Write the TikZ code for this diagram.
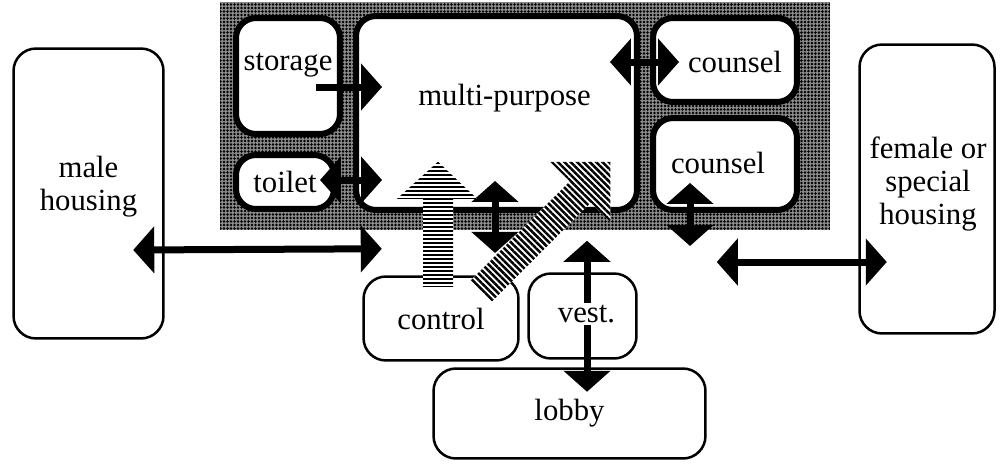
\documentclass[tikz,border=0pt]{standalone}
\usepackage{fontspec}
\setmainfont{Liberation Serif}
\usetikzlibrary{arrows.meta, positioning, fit, backgrounds, calc, patterns.meta}
\tikzset{
    room/.style={
        rectangle, rounded corners=0.4cm, draw=black, line width=0.12cm,
        fill=white, align=center, inner sep=0pt, font=\fontsize{17.5}{19}\selectfont
    },
    wing/.style={
        rectangle, rounded corners=0.45cm, draw=black, line width=0.05cm,
        fill=white, align=center, inner sep=0pt, font=\fontsize{17.5}{19}\selectfont
    },
    every label/.style={
        font=\fontsize{17.5}{19}\selectfont, inner sep=0pt
    },
    link/.style={
        {Triangle[length=0.42cm,width=0.92cm]}-{Triangle[length=0.42cm,width=0.92cm]},
        line width=0.14cm
    },
    oneway/.style={
        -{Triangle[length=0.42cm,width=0.92cm]}, line width=0.14cm
    },
    stipple/.style={
        preaction={fill=black!45},
        pattern={Dots[distance=0.07cm, radius=0.028cm]}, inner sep=0pt
    },
    hstripes/.style={
        preaction={fill=white},
        pattern={Lines[angle=0, distance=0.08cm, line width=0.045cm]}
    },
    dstripes/.style={
        preaction={fill=white},
        pattern={Lines[angle=-45, distance=0.09cm, line width=0.05cm]}
    }
}

\begin{document}
\begin{tikzpicture}[x=0.02cm, y=-0.02cm]
    \useasboundingbox (0,0) rectangle (1000,463);

    % rooms of the unit core
    \node[room, minimum width=2.08cm, minimum height=2.32cm,
          label={[shift={(0,-11)}]center:storage}]          (storage)  at (288,76)    {};
    \node[room, minimum width=1.96cm, minimum height=1.08cm] (toilet)   at (285,182)   {toilet};
    \node[room, minimum width=5.62cm, minimum height=3.88cm,
          label={[shift={(8,-15)}]center:multi-purpose}]    (multi)    at (496.5,113) {};
    \node[room, minimum width=2.88cm, minimum height=1.68cm,
          label={[shift={(10,2)}]center:counsel}]           (counsel1) at (725,60)    {};
    \node[room, minimum width=2.88cm, minimum height=1.84cm,
          label={[shift={(-7,-1)}]center:counsel}]          (counsel2) at (725,164)   {};

    % outer spaces
    \node[wing, minimum width=3.0cm, minimum height=5.8cm,
          label={[align=center, shift={(0,-7)}]center:male\\housing}] (male) at (88.5,193.5) {};
    \node[wing, minimum width=2.7cm, minimum height=5.78cm,
          label={[align=center, shift={(1,-5)}]center:female or\\special\\housing}] (female) at (927,189) {};
    \node[wing, minimum width=3.1cm, minimum height=1.68cm]  (control)  at (441,318.5)  {control};
    \node[wing, minimum width=2.16cm, minimum height=1.7cm]  (vest)     at (582.5,316)  {};
    \node[wing, minimum width=5.44cm, minimum height=1.8cm]  (lobby)    at (569.5,413.5) {lobby};

    \begin{scope}[on background layer]
        \node[stipple, fit=(storage)(toilet)(multi)(counsel1)(counsel2),
              inner xsep=0.43cm, inner ysep=0.28cm, xshift=0.17cm, yshift=-0.06cm] (core) {};
    \end{scope}

    % connections
    \draw[oneway] ($(storage.east)+(-27,11)$)    -- ($(multi.west)+(29,-26)$);
    \draw[link]   ($(toilet.east)+(-17,-2)$)     -- ($(multi.west)+(29,67)$);
    \draw[link]   ($(male.east)+(-31.5,56.5)$)   -- ($(control.north west)+(19.5,-26.5)$);
    \draw[link]   ($(multi.east)+(-30,-51)$)     -- ($(counsel1.west)+(29,2)$);
    \draw[link]   ($(counsel2.south)+(-35,-30)$) -- ($(counsel2.south)+(-35,33)$);
    \draw[link]   ($(female.west)+(-141.5,73)$)  -- ($(female.west)+(28.5,73)$);
    \draw[link]   ($(multi.south)+(-1.5,-32)$)   -- ($(multi.south)+(-1.5,40)$);
    \draw[link]   ($(vest.north)+(4.5,-31.5)$)   -- ($(lobby.north)+(17.5,24.5)$);

    % vest. label sits over the through-arrow
    \node[fill=white, inner sep=1pt, font=\fontsize{17.5}{19}\selectfont] (vest-text)
        at ($(vest.center)+(4,-2)$) {vest.};

    % supervision arrows
    \coordinate (ctrl-up)   at ($(control.north)+(-18,11.5)$);
    \coordinate (ctrl-diag) at ($(control.north east)+(-49,5)$);
    \fill[hstripes] (ctrl-up) -- ++(0,-88) -- ++(-26,0) -- ++(41,-37) -- ++(39,37)
        -- ++(-24,0) -- ++(0,88) -- cycle;
    \fill[dstripes] (ctrl-diag) -- ++(99,-99) -- ++(-19.4,-19.4) -- ++(60,0) -- ++(0,60)
        -- ++(-19.4,-19.4) -- ++(-99,99) -- cycle;

\end{tikzpicture}
\end{document}
